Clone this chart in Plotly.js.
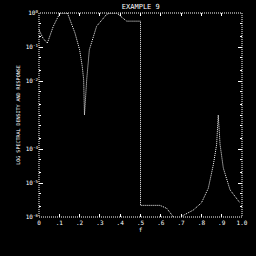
<!DOCTYPE html>
<html><head><meta charset="utf-8">
<script src="https://cdn.plot.ly/plotly-3.0.1.min.js"></script>
<style>html,body{margin:0;padding:0;background:#000;}#plot{width:256px;height:256px;}</style>
</head><body><div id="plot"></div>
<script>
const freq = [0, 0.02, 0.041, 0.07, 0.103, 0.14, 0.177, 0.2, 0.213, 0.22, 0.224, 0.228, 0.235, 0.248, 0.284, 0.333, 0.35, 0.382, 0.432, 0.45, 0.5, 0.5, 0.596, 0.629, 0.662, 0.675, 0.69, 0.703, 0.76, 0.8, 0.834, 0.859, 0.875, 0.883, 0.892, 0.908, 0.941, 0.982, 0.99];
const density = [0.32, 0.18, 0.13, 0.4, 1, 1, 0.26, 0.083, 0.027, 0.011, 0.001, 0.003, 0.011, 0.083, 0.41, 0.91, 1, 1, 0.575, 0.575, 0.575, 2.2e-6, 2.2e-6, 1.8e-6, 1.05e-6, 8e-7, 8e-7, 1.05e-6, 1.6e-6, 2.6e-6, 7e-6, 3.5e-5, 1.35e-4, 1e-3, 1.35e-4, 2.75e-5, 6.3e-6, 3.2e-6, 2.6e-6];
const xTickVals = [0, 0.1, 0.2, 0.3, 0.4, 0.5, 0.6, 0.7, 0.8, 0.9, 1.0];
const xTickText = ['0', '.1', '.2', '.3', '.4', '.5', '.6', '.7', '.8', '.9', '1.0'];
const yTickVals = [1, 0.1, 0.01, 1e-4, 1e-5, 1e-6];
const yTickText = ['10<sup>0</sup>', '10<sup>-1</sup>', '10<sup>-2</sup>', '10<sup>-4</sup>', '10<sup>-5</sup>', '10<sup>-6</sup>'];

const fnt = {family: 'DejaVu Sans Mono', size: 6, color: '#ffffff'};
const trace = {
  x: freq, y: density, type: 'scatter', mode: 'lines',
  line: {color: '#ffffff', width: 1, dash: '1px,1px'},
  hoverinfo: 'skip'
};
const layout = {
  width: 256, height: 256,
  paper_bgcolor: '#000000', plot_bgcolor: '#000000',
  margin: {l: 39, r: 14, t: 13, b: 39},
  showlegend: false,
  title: {text: 'EXAMPLE 9', font: {family: 'DejaVu Sans Mono', size: 7, color: '#ffffff'}, x: 0.55, xanchor: 'center', y: 0.985, yanchor: 'top'},
  xaxis: {
    range: [0, 1], tickvals: xTickVals, ticktext: xTickText,
    ticks: 'inside', ticklen: 3, tickcolor: '#ffffff', mirror: 'ticks',
    showgrid: false, zeroline: false, showline: false,
    tickfont: fnt, ticklabelstandoff: 1,
    title: {text: 'f', font: fnt, standoff: 2}
  },
  yaxis: {
    type: 'log', range: [-6, 0], tickvals: yTickVals, ticktext: yTickText,
    ticks: 'inside', ticklen: 4, tickcolor: '#ffffff', mirror: 'ticks',
    minor: {ticks: 'inside', ticklen: 2, tickcolor: '#ffffff'},
    showgrid: false, zeroline: false, showline: false,
    tickfont: fnt,
    title: {text: 'LOG SPECTRAL DENSITY AND RESPONSE', font: {family: 'DejaVu Sans Mono', size: 5, color: '#ffffff'}, standoff: 4}
  },
  shapes: [{type: 'rect', xref: 'paper', yref: 'paper', x0: 0, x1: 1, y0: 0, y1: 1,
            line: {color: '#ffffff', width: 1, dash: '1px,1px'}}]
};
Plotly.newPlot('plot', [trace], layout, {staticPlot: true, displayModeBar: false});
</script>
</body></html>
